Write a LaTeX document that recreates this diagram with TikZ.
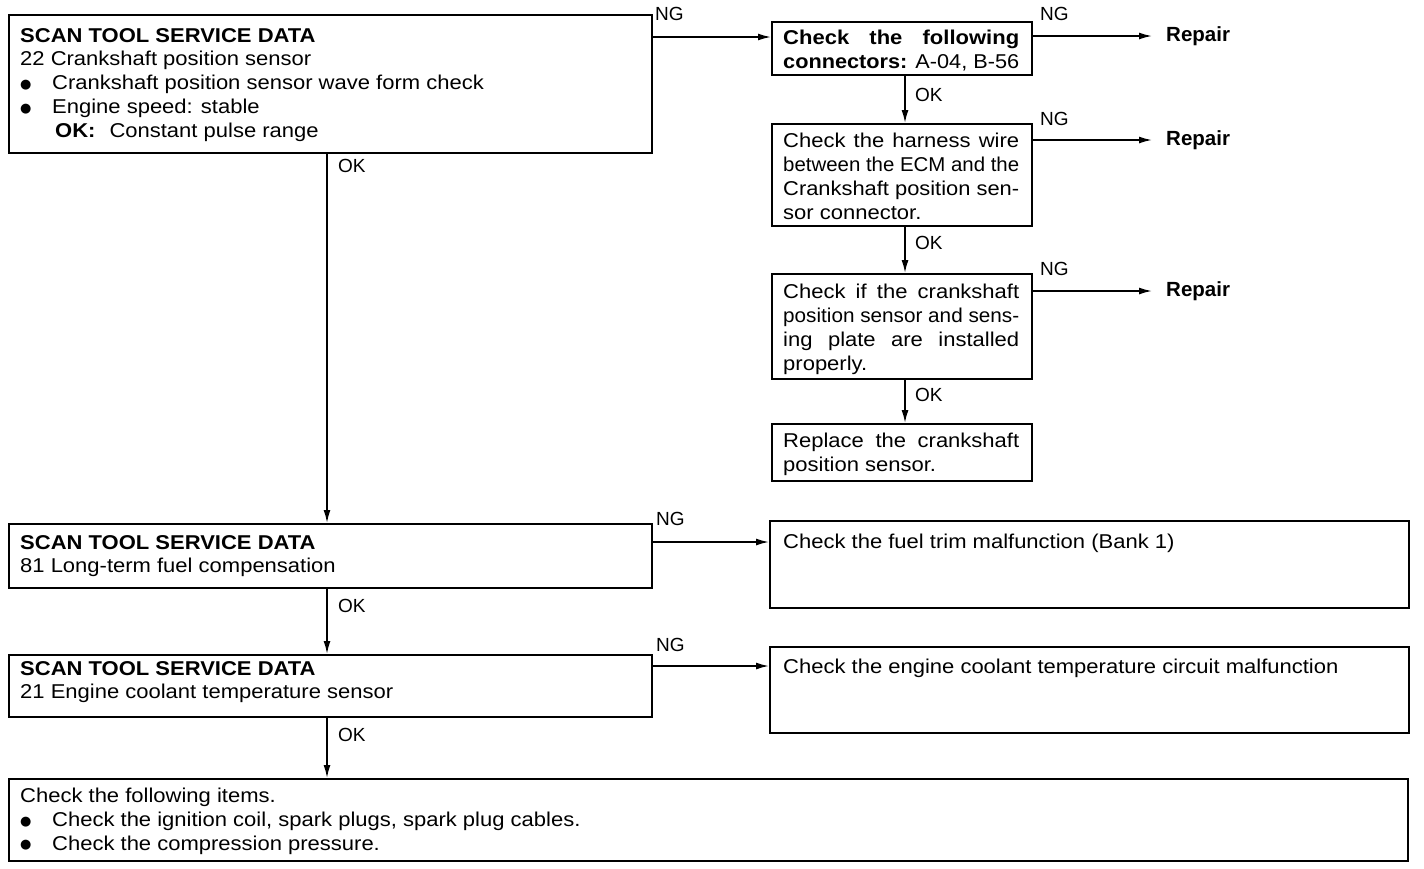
\documentclass[tikz,border=0pt]{standalone}
\usepackage{fontspec}
\setmainfont{Liberation Sans}[FakeStretch=1.1]
\newfontfamily\plainfont{Liberation Sans}
\newfontfamily\symfont{DejaVu Sans}
\usetikzlibrary{arrows.meta}
\newcommand{\jl}[1]{\sbox0{#1}\ifdim\wd0>236pt\resizebox{236pt}{\ht0}{#1}\else\makebox[236pt][s]{#1}\fi}
\newcommand{\bul}{\makebox[32pt][l]{\raisebox{1.5pt}{\symfont\fontsize{13}{13}\selectfont ●}}}
\begin{document}
\begin{tikzpicture}[x=1pt,y=-1pt,
  box/.style={draw, line width=2pt, inner sep=0pt, anchor=north west},
  txt/.style={inner sep=0pt, anchor=north west, align=left, font=\fontsize{20}{23.8}\selectfont},
  lbl/.style={inner sep=0pt, anchor=north west, font=\plainfont\fontsize{19}{23}\selectfont},
  rep/.style={inner sep=0pt, anchor=west, font=\plainfont\fontsize{20.5}{23}\selectfont\bfseries},
  arr/.style={line width=1.6pt, -{Latex[length=13pt,width=7pt]}}]
\useasboundingbox (0,0) rectangle (1424,868);
% boxes
\node[box, minimum width=643pt, minimum height=138pt] (b1) at (8,14) {};
\node[box, minimum width=260pt, minimum height=53pt] (b2) at (771,21) {};
\node[box, minimum width=260pt, minimum height=102pt] (b3) at (771,123) {};
\node[box, minimum width=260pt, minimum height=105pt] (b4) at (771,273) {};
\node[box, minimum width=260pt, minimum height=57pt] (b5) at (771,423) {};
\node[box, minimum width=643pt, minimum height=64pt] (b6) at (8,523) {};
\node[box, minimum width=643pt, minimum height=62pt] (b7) at (8,654) {};
\node[box, minimum width=1399pt, minimum height=82pt] (b8) at (8,778) {};
\node[box, minimum width=639pt, minimum height=87pt] (b9) at (769,520) {};
\node[box, minimum width=639pt, minimum height=86pt] (b10) at (769,646) {};
% texts
\node[txt] (t1) at (20,28) {\textbf{SCAN TOOL SERVICE DATA}\\
22 Crankshaft position sensor\\
\bul Crankshaft position sensor wave form check\\
\bul Engine speed: stable\\
\hspace*{35pt}\textbf{OK:}\hspace{14pt}Constant pulse range};
\node[txt] (t2) at (783,30) {\jl{\textbf{Check the following}}\\
\jl{\textbf{connectors:} A-04, B-56}};
\node[txt] (t3) at (783,133) {\jl{Check the harness wire}\\
\jl{between the ECM and the}\\
\jl{Crankshaft position sen-}\\
sor connector.};
\node[txt] (t4) at (783,284) {\jl{Check if the crankshaft}\\
\jl{position sensor and sens-}\\
\jl{ing plate are installed}\\
properly.};
\node[txt] (t5) at (783,433) {\jl{Replace the crankshaft}\\
position sensor.};
\node[txt] (t6) at (20,535) {\textbf{SCAN TOOL SERVICE DATA}\\
81 Long-term fuel compensation};
\node[txt] (t7) at (20,661) {\textbf{SCAN TOOL SERVICE DATA}\\
21 Engine coolant temperature sensor};
\node[txt] (t8) at (20,788) {Check the following items.\\
\bul Check the ignition coil, spark plugs, spark plug cables.\\
\bul Check the compression pressure.};
\node[txt] (t9) at (783,534) {Check the fuel trim malfunction (Bank 1)};
\node[txt] (t10) at (783,659) {Check the engine coolant temperature circuit malfunction};
% repair nodes
\node[rep] (r1) at (1166,36) {Repair};
\node[rep] (r2) at (1166,140) {Repair};
\node[rep] (r3) at (1166,291) {Repair};
% row coordinates
\coordinate (y1) at (0,37);
\coordinate (y6) at (0,542);
\coordinate (y7) at (0,666);
% horizontal connectors
\draw[arr] (b1.east |- y1) -- (b2.west |- y1);
\draw[arr] (b2.east |- r1) -- ([xshift=-14pt]r1.west);
\draw[arr] (b3.east |- r2) -- ([xshift=-14pt]r2.west);
\draw[arr] (b4.east |- r3) -- ([xshift=-14pt]r3.west);
\draw[arr] (b6.east |- y6) -- (b9.west |- y6);
\draw[arr] (b7.east |- y7) -- (b10.west |- y7);
% vertical connectors
\draw[arr] (b1.south -| 327,0) -- (b6.north -| 327,0);
\draw[arr] (b6.south -| 327,0) -- (b7.north -| 327,0);
\draw[arr] (b7.south -| 327,0) -- (b8.north -| 327,0);
\draw[arr] (b2.south -| 905,0) -- (b3.north -| 905,0);
\draw[arr] (b3.south -| 905,0) -- (b4.north -| 905,0);
\draw[arr] (b4.south -| 905,0) -- (b5.north -| 905,0);
% labels
\node[lbl] (ng1) at (655,7) {NG};
\node[lbl] (ng2) at (1040,7) {NG};
\node[lbl] (ng3) at (1040,112) {NG};
\node[lbl] (ng4) at (1040,262) {NG};
\node[lbl] (ng6) at (656,512) {NG};
\node[lbl] (ng7) at (656,638) {NG};
\node[lbl] (ok1) at (338,159) {OK};
\node[lbl] (ok6) at (338,599) {OK};
\node[lbl] (ok7) at (338,728) {OK};
\node[lbl] (ok2) at (915,88) {OK};
\node[lbl] (ok3) at (915,236) {OK};
\node[lbl] (ok4) at (915,388) {OK};
\end{tikzpicture}
\end{document}
